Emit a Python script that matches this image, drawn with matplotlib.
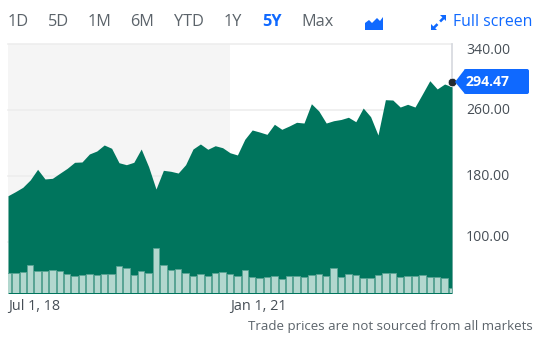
import matplotlib
matplotlib.use('Agg')
from matplotlib import pyplot as plt
from matplotlib.patches import Polygon, FancyBboxPatch
from matplotlib.transforms import Affine2D
import numpy as np

plt.rcParams['font.family'] = ['Open Sans', 'DejaVu Sans']

# monthly close, Jul 2018 .. Jul 2023
prices = [156.1, 161.0, 166.3, 175.2, 188.1, 176.4, 177.2, 183.3, 189.3, 196.6,
          197.0, 206.7, 210.3, 217.6, 213.6, 196.1, 193.7, 196.6, 212.7, 191.3,
          164.2, 186.9, 185.7, 183.6, 193.7, 212.7, 218.8, 212.4, 216.7, 214.3,
          208.2, 205.5, 224.5, 235.8, 233.3, 230.5, 242.7, 236.6, 240.6, 245.1,
          244.2, 267.6, 258.8, 244.2, 247.0, 248.5, 251.2, 245.8, 262.4, 251.9,
          229.7, 272.5, 272.1, 263.6, 266.9, 263.6, 279.4, 295.5, 285.5, 291.5,
          288.2]
volumes = [20, 20, 20.7, 28.3, 22, 21.7, 22.7, 22, 18.7, 16.7,
           17.7, 19, 17.7, 19, 19, 27, 25.3, 18, 22, 20.3,
           45, 28.3, 22.7, 24, 19.7, 17.3, 18.7, 16.7, 20.3, 21,
           19, 17.3, 23.3, 16.3, 15.3, 16.3, 16.7, 14.3, 17, 17.3,
           16, 17.7, 19, 17.3, 25, 16, 19.3, 18, 15.3, 15.3,
           18, 20, 20, 16.3, 16.7, 16.7, 18.3, 16, 16, 15.3, 5]
last_price = 294.47
price_ticks = [340, 260, 180, 100]
price_labels = ['340.00', '260.00', '180.00', '100.00']
date_ticks = [0, 30]
date_labels = ['Jul 1, 18', 'Jan 1, 21']
tabs = ['1D', '5D', '1M', '6M', 'YTD', '1Y', '5Y', 'Max']

W, H = 559, 354
GREEN = '#00755d'
BLUE = '#0f69ff'
GREY = '#5b636a'

fig = plt.figure(figsize=(W / 100, H / 100), dpi=100)
px = Affine2D().scale(1 / W, -1 / H).translate(0, 1) + fig.transFigure

ax = fig.add_axes([8 / W, 1 - 293 / H, 444 / W, 249 / H])
x = np.arange(len(prices))
ax.set_xlim(0, 60)
ax.set_ylim(38.2, 340)
ax.axvspan(0, 30, color='#f5f5f5', lw=0, zorder=0)
for t in price_ticks:
    ax.axhline(t, color='#ececec', lw=1.1, zorder=1, clip_on=False)
ax.fill_between(x, prices, 0, color=GREEN, lw=0, zorder=2)
ax.set_xticks([])
ax.set_yticks([])
for s in ax.spines.values():
    s.set_visible(False)

# volume bars on their own scale, 0 at the bottom of the plot
vol = ax.twinx()
vol.set_ylim(0, 249)
vol.bar(x, volumes, width=0.84, color='#b2d7ce', edgecolor='#5aa494', lw=0.6, zorder=3)
vol.set_yticks([])
for s in vol.spines.values():
    s.set_visible(False)

ax.axvline(60, color='#d5d8de', lw=1.2, zorder=1, clip_on=False)

# y labels, the outer two are pushed inside the plot
offsets = [-5.0, -0.7, -0.7, 3.6]
for t, lab, off in zip(price_ticks, price_labels, offsets):
    ax.annotate(lab, xy=(60, t), xytext=(10, off), textcoords='offset points',
                va='center', ha='left', fontsize=10.1, color='#464e56', zorder=6)

for t, lab in zip(date_ticks, date_labels):
    ax.annotate(lab, xy=(t, 38.2), xytext=(0, -10), textcoords='offset points',
                va='center', ha='left', fontsize=10.4, color='#464e56', annotation_clip=False)

# range buttons
tab_x = [8, 48, 88, 130, 174, 224, 262, 301]
for name, tx in zip(tabs, tab_x):
    sel = name == '5Y'
    fig.text(tx, 22.5, name, transform=px, va='center', ha='left', fontsize=11.7,
             color=BLUE if sel else GREY, fontweight='bold' if sel else 'medium')

# chart type icon
icon = [(365, 23), (369, 20), (372, 23), (377, 18), (380, 21), (383, 17), (383, 30), (365, 30)]
fig.add_artist(Polygon(icon, closed=True, transform=px, fc=BLUE, ec='none'))

# full screen icon
fig.add_artist(Polygon([(440, 15), (446, 15), (446, 21), (444.2, 19.2), (441, 22.4), (439.2, 20.6), (442.4, 17.4)],
                       closed=True, transform=px, fc=BLUE, ec='none'))
fig.add_artist(Polygon([(431, 24), (431, 30), (437, 30), (435.2, 28.2), (438.4, 25), (436.6, 23.2), (433.4, 26.4)],
                       closed=True, transform=px, fc=BLUE, ec='none'))
fig.text(453, 22.5, 'Full screen', transform=px, va='center', ha='left', fontsize=11.4,
         color=BLUE, fontweight='medium')

# last price marker and badge
fig.add_artist(FancyBboxPatch((464, 69), 65, 25, boxstyle='round,pad=0,rounding_size=2',
                              transform=px, fc=BLUE, ec='none', zorder=5))
fig.add_artist(Polygon([(455, 82), (465, 69), (465, 94)], closed=True, transform=px,
                       fc=BLUE, ec='none', zorder=5))
ax.set_zorder(0)
vol.set_zorder(1)
vol.plot([60], [(last_price - 38.2) / (340 - 38.2) * 249], 'o', ms=6.2, color='#232a31', mec='white',
         mew=0.5, zorder=8, clip_on=False)
fig.text(466, 82.5, f'{last_price:.2f}', transform=px, va='center', ha='left', fontsize=10.1,
         color='white', fontweight='bold', zorder=6)

fig.text(533, 326.5, 'Trade prices are not sourced from all markets', transform=px, va='center',
         ha='right', fontsize=9.5, color=GREY)

plt.savefig('out.png', dpi=100)
